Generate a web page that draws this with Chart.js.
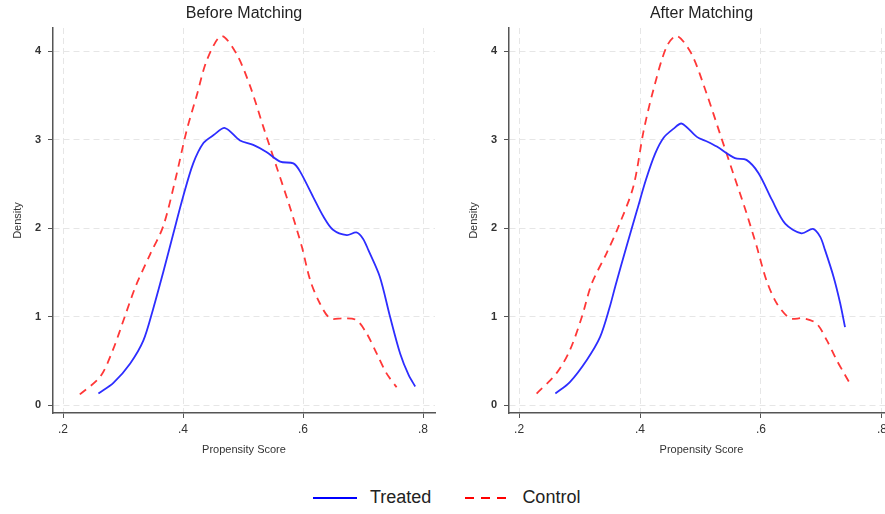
<!DOCTYPE html>
<html lang="en">
<head>
  <meta charset="UTF-8" />
  <title>Propensity score density</title>
  <script src="https://cdn.jsdelivr.net/npm/chart.js"></script>
  <style>
    html, body {
      margin: 0;
      padding: 0;
      width: 885px;
      height: 514px;
      overflow: hidden;
      background: #fff;
      font-family: Arial, "Liberation Sans", sans-serif;
    }
    .panel {
      position: absolute;
      top: 0;
      height: 470px;
    }
    #before { left: 0; width: 445px; }
    #after { left: 456px; width: 448px; }
    .legend {
      position: absolute;
      top: 487px;
      left: 313px;
      display: flex;
      align-items: center;
      font-size: 18px;
      color: #222;
    }
    .legend svg { margin-right: 13px; }
    .legend span { margin-right: 34px; }
  </style>
</head>
<body>
  <div class="panel" id="before"><canvas id="beforeChart"></canvas></div>
  <div class="panel" id="after"><canvas id="afterChart"></canvas></div>

  <div class="legend">
    <svg width="44" height="4"><line x1="0" y1="2" x2="44" y2="2" stroke="#0000ff" stroke-width="2"/></svg>
    <span>Treated</span>
    <svg width="44" height="4"><line x1="0" y1="2" x2="44" y2="2" stroke="#ff0000" stroke-width="2" stroke-dasharray="9,7"/></svg>
    <span>Control</span>
  </div>

  <script>
    const xTicks = [0.2, 0.4, 0.6, 0.8];
    const yTicks = [0, 1, 2, 3, 4];

    // Before matching
    const beforeTreatedX = [0.259, 0.284, 0.312, 0.334, 0.35, 0.367, 0.384, 0.40, 0.417, 0.434, 0.451, 0.47, 0.495, 0.517, 0.539, 0.562, 0.584, 0.595, 0.617, 0.634, 0.65, 0.673, 0.689, 0.70, 0.709, 0.728, 0.745, 0.762, 0.776, 0.787];
    const beforeTreatedY = [0.13, 0.25, 0.47, 0.73, 1.08, 1.50, 1.94, 2.35, 2.73, 2.96, 3.05, 3.13, 2.99, 2.94, 2.86, 2.75, 2.73, 2.64, 2.35, 2.13, 1.98, 1.92, 1.95, 1.88, 1.75, 1.45, 1.0, 0.58, 0.34, 0.21];
    const beforeControlX = [0.228, 0.262, 0.283, 0.303, 0.321, 0.345, 0.367, 0.387, 0.406, 0.423, 0.44, 0.464, 0.489, 0.512, 0.534, 0.556, 0.578, 0.598, 0.612, 0.628, 0.645, 0.667, 0.689, 0.706, 0.723, 0.739, 0.756];
    const beforeControlY = [0.12, 0.32, 0.62, 1.0, 1.34, 1.70, 2.02, 2.54, 3.1, 3.5, 3.9, 4.17, 3.97, 3.6, 3.14, 2.69, 2.24, 1.79, 1.41, 1.15, 0.98, 0.98, 0.96, 0.81, 0.58, 0.36, 0.20];

    // After matching
    const afterTreatedX = [0.26, 0.284, 0.312, 0.334, 0.35, 0.359, 0.378, 0.395, 0.41, 0.425, 0.439, 0.455, 0.469, 0.494, 0.51, 0.527, 0.557, 0.576, 0.596, 0.618, 0.64, 0.667, 0.686, 0.698, 0.706, 0.72, 0.731, 0.739];
    const afterTreatedY = [0.13, 0.26, 0.51, 0.77, 1.11, 1.34, 1.80, 2.20, 2.55, 2.84, 3.02, 3.12, 3.18, 3.03, 2.98, 2.92, 2.79, 2.77, 2.62, 2.32, 2.05, 1.94, 1.99, 1.90, 1.75, 1.45, 1.15, 0.88];
    const afterControlX = [0.229, 0.262, 0.284, 0.304, 0.32, 0.345, 0.364, 0.389, 0.406, 0.422, 0.444, 0.461, 0.485, 0.51, 0.532, 0.554, 0.576, 0.593, 0.609, 0.626, 0.648, 0.67, 0.692, 0.709, 0.725, 0.739, 0.75];
    const afterControlY = [0.13, 0.36, 0.62, 1.0, 1.37, 1.72, 2.01, 2.47, 3.1, 3.56, 4.05, 4.17, 3.97, 3.52, 3.07, 2.62, 2.17, 1.79, 1.41, 1.15, 0.98, 0.98, 0.92, 0.73, 0.51, 0.34, 0.21];

    const toPoints = (xs, ys) => xs.map((x, i) => ({ x, y: ys[i] }));

    const axisColor = '#555';
    const gridColor = '#e6e6e6';

    function makeChart(id, titleText, treatedX, treatedY, controlX, controlY) {
      return new Chart(document.getElementById(id), {
        type: 'line',
        data: {
          datasets: [
            {
              label: 'Treated',
              data: toPoints(treatedX, treatedY),
              borderColor: 'rgb(45,45,255)',
              borderWidth: 1.8,
              pointRadius: 0,
              tension: 0.3
            },
            {
              label: 'Control',
              data: toPoints(controlX, controlY),
              borderColor: 'rgb(255,55,55)',
              borderWidth: 1.8,
              borderDash: [8, 6],
              pointRadius: 0,
              tension: 0.3
            }
          ]
        },
        options: {
          responsive: true,
          maintainAspectRatio: false,
          animation: false,
          layout: { padding: { top: 0, right: 10, left: 0, bottom: 0 } },
          plugins: {
            legend: { display: false },
            tooltip: { enabled: false },
            title: {
              display: true,
              text: titleText,
              fullSize: false,
              color: '#222',
              font: { family: 'Arial, "Liberation Sans", sans-serif', size: 16, weight: 'normal', lineHeight: 1.2 },
              padding: { top: 4.4, bottom: 4.4 }
            }
          },
          scales: {
            x: {
              type: 'linear',
              min: 0.1833,
              max: 0.82,
              afterBuildTicks: s => { s.ticks = xTicks.map(v => ({ value: v })); },
              afterFit: s => { s.height = 57; },
              ticks: {
                color: '#333',
                font: { size: 12 },
                padding: 4,
                maxRotation: 0,
                callback: v => v.toFixed(1).replace('0.', '.')
              },
              grid: { color: gridColor, tickColor: axisColor, tickLength: 5, lineWidth: 1 },
              border: { display: true, color: axisColor, width: 1.5, dash: [6, 4] },
              title: {
                display: true,
                text: 'Propensity Score',
                color: '#333',
                font: { size: 11 },
                padding: { top: 0, bottom: 13 }
              }
            },
            y: {
              type: 'linear',
              min: -0.09,
              max: 4.26,
              afterBuildTicks: s => { s.ticks = yTicks.map(v => ({ value: v })); },
              afterFit: s => { s.width = 53; },
              ticks: {
                color: '#333',
                font: { size: 11, weight: 'bold' },
                padding: 7
              },
              grid: { color: gridColor, tickColor: axisColor, tickLength: 5, lineWidth: 1 },
              border: { display: true, color: axisColor, width: 1.5, dash: [6, 4] },
              title: {
                display: true,
                text: 'Density',
                color: '#333',
                font: { size: 11 },
                padding: { top: 11.4, bottom: 0 }
              }
            }
          }
        }
      });
    }

    makeChart('beforeChart', 'Before Matching', beforeTreatedX, beforeTreatedY, beforeControlX, beforeControlY);
    makeChart('afterChart', 'After Matching', afterTreatedX, afterTreatedY, afterControlX, afterControlY);
  </script>
</body>
</html>
